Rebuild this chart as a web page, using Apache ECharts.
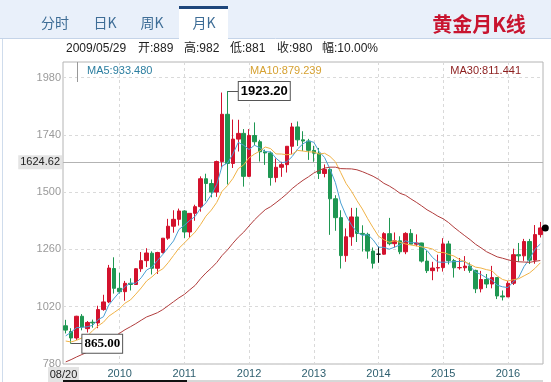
<!DOCTYPE html>
<html><head><meta charset="utf-8">
<script src="https://cdn.jsdelivr.net/npm/echarts@6/dist/echarts.min.js"></script>
<style>html,body{margin:0;padding:0;background:#fff}#c{width:551px;height:382px}</style>
</head><body><div id="c"></div>
<script>
// ---- data (monthly gold K line) ----
const categories = [
'2009/03','2009/04','2009/05','2009/06','2009/07','2009/08','2009/09','2009/10','2009/11','2009/12',
'2010/01','2010/02','2010/03','2010/04','2010/05','2010/06','2010/07','2010/08','2010/09','2010/10','2010/11','2010/12',
'2011/01','2011/02','2011/03','2011/04','2011/05','2011/06','2011/07','2011/08','2011/09','2011/10','2011/11','2011/12',
'2012/01','2012/02','2012/03','2012/04','2012/05','2012/06','2012/07','2012/08','2012/09','2012/10','2012/11','2012/12',
'2013/01','2013/02','2013/03','2013/04','2013/05','2013/06','2013/07','2013/08','2013/09','2013/10','2013/11','2013/12',
'2014/01','2014/02','2014/03','2014/04','2014/05','2014/06','2014/07','2014/08','2014/09','2014/10','2014/11','2014/12',
'2015/01','2015/02','2015/03','2015/04','2015/05','2015/06','2015/07','2015/08','2015/09','2015/10','2015/11','2015/12',
'2016/01','2016/02','2016/03','2016/04','2016/05','2016/06','2016/07'];

const opens = [
940,916,889,980,928,955,952,1008,1040,1180,
1097,1083,1118,1113,1179,1213,1244,1181,1247,1307,1357,1386,
1421,1333,1411,1439,1556,1536,1500,1628,1826,1620,1722,1746,
1566,1737,1711,1669,1664,1561,1604,1615,1692,1773,1719,1714,
1675,1663,1578,1595,1472,1393,1234,1313,1396,1327,1323,1253,
1240,1240,1326,1284,1296,1250,1327,1282,1287,1211,1171,1182,
1184,1283,1213,1183,1183,1190,1172,1095,1134,1115,1142,1065,
1061,1118,1238,1233,1293,1215,1322];

const closes = [
922,889,980,935,954,952,1008,1040,1182,1097,
1083,1118,1113,1179,1213,1245,1181,1247,1307,1357,1386,1421,
1333,1411,1439,1556,1536,1500,1628,1826,1620,1722,1746,1566,
1737,1711,1669,1664,1561,1604,1615,1692,1773,1719,1714,1675,
1663,1578,1595,1472,1393,1234,1313,1396,1327,1323,1253,1202,
1240,1326,1284,1296,1250,1327,1282,1287,1211,1171,1182,1184,
1283,1213,1183,1184,1190,1172,1095,1134,1115,1142,1065,1061,
1118,1238,1233,1293,1215,1322,1350];

const lows = [
908,865,881,921,912,932,930,1003,1035,1075,
1075,1045,1088,1111,1166,1186,1155,1157,1243,1300,1330,1360,
1308,1309,1380,1418,1462,1478,1480,1603,1532,1601,1670,1523,
1563,1696,1628,1614,1527,1541,1564,1582,1659,1693,1672,1635,
1627,1555,1562,1321,1338,1180,1208,1275,1291,1251,1221,1180,
1204,1238,1277,1268,1240,1240,1281,1273,1205,1161,1131,1167,
1167,1197,1142,1175,1170,1162,1077,1080,1098,1097,1052,1046,
1061,1111,1208,1212,1199,1200,1310];

const highs = [
965,930,982,989,960,966,1024,1070,1195,1227,
1162,1128,1139,1181,1249,1265,1252,1250,1307,1388,1424,1431,
1424,1411,1447,1566,1577,1553,1632,1917,1923.2,1804,1803,1764,
1764,1792,1719,1678,1670,1641,1627,1692,1790,1796,1755,1723,
1694,1685,1616,1601,1487,1424,1348,1434,1434,1361,1330,1268,
1272,1332,1392,1331,1315,1332,1345,1323,1288,1255,1208,1238,
1307,1296,1220,1224,1232,1205,1175,1170,1157,1191,1142,1088,
1128,1263,1287,1304,1304,1362,1375];

// closes of the months before the first visible candle (feed the moving averages)
const historyCloses = [603,646,632,650,669,663,679,659,650,666,673,743,789,783,834,
924,972,916,864,886,928,912,834,880,718,814,884,928,942];

const yTicks = [780,1020,1260,1500,1740,1980];
const crossPrice = 1624.62;
const maxLabel = {cat:'2011/09', value:1923.2, text:'1923.20'};
const minLabel = {cat:'2009/04', value:865, text:'865.00'};
const markedCandle = '2014/01';
const infoFields = ['2009/05/29','开:889','高:982','低:881','收:980','幅:10.00%'];
const maLegend = ['MA5:933.480','MA10:879.239','MA30:811.441'];
const tabs = ['分时','日K','周K','月K'];
const titleText = '黄金月K线';
const firstDateLabel = '08/20';

// ---- build ----
const allCloses = historyCloses.concat(closes);
function movingAvg(n){
  return closes.map((c,i)=>{
    const end = historyCloses.length + i;
    let s = 0;
    for(let k=end-n+1;k<=end;k++) s += allCloses[k];
    return +(s/n).toFixed(3);
  });
}
const UP='#d3122d', DOWN='#1f9752';
const kData = categories.map((c,i)=>{
  const v=[opens[i],closes[i],lows[i],highs[i]];
  if(c===markedCandle) return {value:v,itemStyle:{color:'#111',color0:'#111',borderColor:'#111',borderColor0:'#111'}};
  return v;
});
const yMin = yTicks[0], yStep = yTicks[1]-yTicks[0];
const FONT = '"Liberation Sans", Arial, "Noto Sans CJK SC", sans-serif';
const CJK = '"Noto Sans CJK SC", "Liberation Sans", sans-serif';

function txt(x,y,text,fill,font,align,valign){
  return {type:'text', x:x, y:y, z:100, silent:true,
    style:{text:text, fill:fill, font:font, align:align||'left', textAlign:align||'left',
      verticalAlign:valign||'middle', textVerticalAlign:valign||'middle'}};
}
const infoX=[66,138,184,230,277,322];
const tabX=[55,105,152,204];
const graphics = [
  {type:'rect', z:1, silent:true, shape:{x:0,y:0,width:551,height:38}, style:{fill:'#e9f0fa'}},
  {type:'line', z:2, silent:true, shape:{x1:0,y1:38.5,x2:551,y2:38.5}, style:{stroke:'#c5d4e8',lineWidth:1}},
  {type:'rect', z:3, silent:true, shape:{x:179,y:7,width:49,height:32}, style:{fill:'#ffffff'}},
  {type:'rect', z:4, silent:true, shape:{x:179,y:6,width:49,height:3}, style:{fill:'#1d467b'}},
  {type:'line', z:2, silent:true, shape:{x1:2.5,y1:39,x2:2.5,y2:382}, style:{stroke:'#cfdcec',lineWidth:1}},
  {type:'line', z:2, silent:true, shape:{x1:77.5,y1:62,x2:77.5,y2:82}, style:{stroke:'#999',lineWidth:1}},
  {type:'rect', z:50, silent:true, shape:{x:48,y:367,width:31,height:15}, style:{fill:'#e4e4e4'}},
  {type:'rect', z:50, silent:true, shape:{x:63,y:380,width:124,height:2}, style:{fill:'#111'}},
  {type:'line', z:50, silent:true, shape:{x1:187,y1:381,x2:543,y2:381}, style:{stroke:'#b0b0b0',lineWidth:1}},
  txt(63.5,374.5,firstDateLabel,'#222','11px '+FONT,'center'),
  txt(479,24,titleText,'#c8142f','bold 20px '+CJK,'center')
];
tabs.forEach((t,i)=>graphics.push(txt(tabX[i],23,t,'#3e6d96','14px '+CJK,'center')));
infoFields.forEach((t,i)=>graphics.push(txt(infoX[i],49,t,'#222','12px '+FONT,'left')));
graphics.push(txt(87,71,maLegend[0],'#2b7ea0','11px '+FONT,'left'));
graphics.push(txt(250,71,maLegend[1],'#d6a131','11px '+FONT,'left'));
graphics.push(txt(521,71,maLegend[2],'#8c1d1d','11px '+FONT,'right'));

const boxLabel = (text, fam)=>({show:true, position:'right', distance:0, formatter:text,
  backgroundColor:'#fff', borderColor:'#555', borderWidth:1, padding:[3,2,2,2],
  fontSize:13, fontWeight:'bold', color:'#000', fontFamily:fam});

const option = {
  animation:false,
  textStyle:{fontFamily:FONT},
  grid:{left:63, top:62, width:480, height:302, show:true, borderColor:'#b4b4b4', borderWidth:1},
  xAxis:{type:'category', data:categories, boundaryGap:true,
    axisLine:{show:false}, axisTick:{show:false},
    axisLabel:{interval:(i,v)=>v.endsWith('/01'), formatter:v=>v.slice(0,4), color:'#2e5f6f', fontSize:11, margin:4},
    splitLine:{show:true, alignWithLabel:true, interval:(i,v)=>v.endsWith('/01'),
      lineStyle:{color:'#d9d9d9', type:[3,3], width:1}}},
  yAxis:{type:'value', min:yMin, max:2045, interval:yStep/4,
    axisLine:{show:false}, axisTick:{show:false},
    axisLabel:{color:'#9a9a9a', fontSize:11, margin:2,
      formatter:v=> yTicks.indexOf(v)>=0 ? String(v) : ''},
    splitLine:{show:true, lineStyle:{color:['#dadada','rgba(0,0,0,0)','rgba(0,0,0,0)','rgba(0,0,0,0)'], type:[3,3], width:1}}},
  series:[
    {type:'candlestick', name:'K', data:kData, barWidth:4,
      itemStyle:{color:UP, color0:DOWN, borderColor:UP, borderColor0:DOWN, borderWidth:1},
      markLine:{symbol:'none', silent:true, animation:false, z:1,
        data:[
          {yAxis:crossPrice, lineStyle:{color:'#b3b3b3', type:'solid', width:1},
            label:{show:true, position:'start', distance:1, formatter:crossPrice.toFixed(2),
              backgroundColor:'#e4e4e4', color:'#222', fontSize:11, padding:[2,2,1,2]}},
          [{coord:[maxLabel.cat, maxLabel.value], lineStyle:{color:'#555',type:'solid',width:1}, label:{show:false}},
           {coord:['2011/11', maxLabel.value]}],
          [{coord:[minLabel.cat, minLabel.value], lineStyle:{color:'#555',type:'solid',width:1}, label:{show:false}},
           {coord:['2009/06', minLabel.value]}]
        ]},
      markPoint:{silent:true, animation:false,
        data:[
          {coord:['2011/11', maxLabel.value], symbol:'rect', symbolSize:1, itemStyle:{color:'rgba(0,0,0,0)'},
            label:boxLabel(maxLabel.text, '"Liberation Sans", Arial, sans-serif')},
          {coord:['2009/06', minLabel.value], symbol:'rect', symbolSize:1, itemStyle:{color:'rgba(0,0,0,0)'},
            label:boxLabel(minLabel.text, '"Liberation Serif", "Times New Roman", serif')},
          {coord:[categories[categories.length-1], closes[closes.length-1]], symbol:'circle', symbolSize:7,
            symbolOffset:[5,0], itemStyle:{color:'#000'}, label:{show:false}}
        ]}},
    {type:'line', name:'MA5', data:movingAvg(5), showSymbol:false, symbol:'none', smooth:false,
      lineStyle:{color:'#4a9fd3', width:1}, z:3},
    {type:'line', name:'MA10', data:movingAvg(10), showSymbol:false, symbol:'none', smooth:false,
      lineStyle:{color:'#f0b246', width:1}, z:3},
    {type:'line', name:'MA30', data:movingAvg(30), showSymbol:false, symbol:'none', smooth:false,
      lineStyle:{color:'#b03c3c', width:1}, z:3}
  ],
  graphic:graphics
};
const chart = echarts.init(document.getElementById('c'), null, {renderer:'canvas'});
chart.setOption(option);
</script>
</body></html>
